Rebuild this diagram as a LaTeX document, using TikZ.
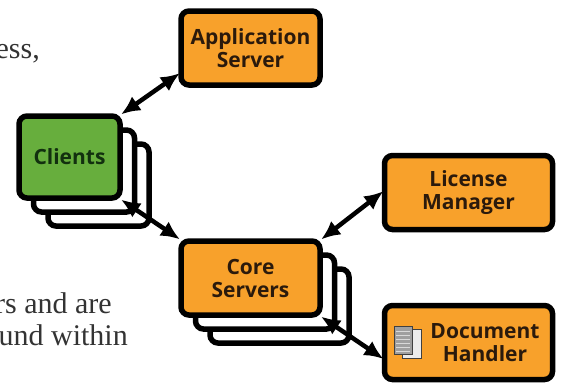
\documentclass[tikz,border=0pt]{standalone}
\usepackage{fontspec}
\setmainfont{Liberation Serif}
\setsansfont{Open Sans}
\usetikzlibrary{arrows.meta}

\definecolor{boxorange}{HTML}{F8A12B}
\definecolor{boxgreen}{HTML}{67AE3D}
\definecolor{boxtext}{HTML}{2B1A0C}
\definecolor{greentext}{HTML}{12300F}

\tikzset{
  labelfont/.style={font=\sffamily\bfseries\fontsize{21}{23}\selectfont},
  serverbox/.style={draw=black, line width=5.5pt, rounded corners=8pt, fill=boxorange, inner sep=0pt,
    align=center, text=boxtext, labelfont},
  wide/.style={minimum width=139pt, minimum height=74pt},
  wider/.style={minimum width=168pt, minimum height=74pt},
  stacked/.style={fill=white},
  link/.style={line width=4.5pt, {Latex[length=19pt,width=17pt]}-{Latex[length=19pt,width=17pt]}, shorten >=-2pt, shorten <=-2pt},
  bodytext/.style={anchor=base east, inner sep=0pt, text=black!80, font=\fontsize{30}{32}\selectfont}
}

\begin{document}
\begin{tikzpicture}[x=1pt, y=-1pt]

\useasboundingbox (0,0) rectangle (561,386);
\clip (0,0) rectangle (561,386);

\node[bodytext] (para1) at (40,58) {ess,};
\node[bodytext] (para2) at (112,313) {rs and are};
\node[bodytext] (para3) at (128,345) {und within};

\node[serverbox, wide] (appserver) at (250.5,48) {Application\\Server};

% clients stack
\node[serverbox, stacked, minimum width=101pt, minimum height=82pt] (clients3) at (98.5,185) {};
\node[serverbox, stacked, minimum width=101pt, minimum height=82pt] (clients2) at (84,171) {};
\node[serverbox, fill=boxgreen, text=greentext, minimum width=101pt, minimum height=82pt] (clients) at (69.5,157) {Clients};

% core servers stack
\node[serverbox, stacked, wide] (core3) at (279.5,306) {};
\node[serverbox, stacked, wide] (core2) at (265,292) {};
\node[serverbox, wide] (core) at (250.5,278) {Core\\Servers};

\node[serverbox, wider] (license) at (468.5,192.5) {License\\Manager};
\node[serverbox, wider] (dochandler) at (468.5,342.5) {};
\node[inner sep=0pt, align=center, text=boxtext, labelfont] (doclabel) at (485,342.5) {Document\\Handler};

% page icon
\draw[black!75, fill=white!85!gray, line width=1pt] (402,329) rectangle (421,358);
\draw[black!75, fill=gray!75, line width=1pt] (394,326) rectangle (412,354);
\foreach \y in {331,335,...,351}
  \draw[white!70!gray, line width=0.8pt] (396,\y) -- (410,\y);

\draw[link] (clients.north east) -- (appserver.200);
\draw[link] (clients.south east) -- (core.north west);
\draw[link] (core.north east) -- (license.west);
\draw[link] (core.south east) -- (dochandler.190);

\end{tikzpicture}
\end{document}
